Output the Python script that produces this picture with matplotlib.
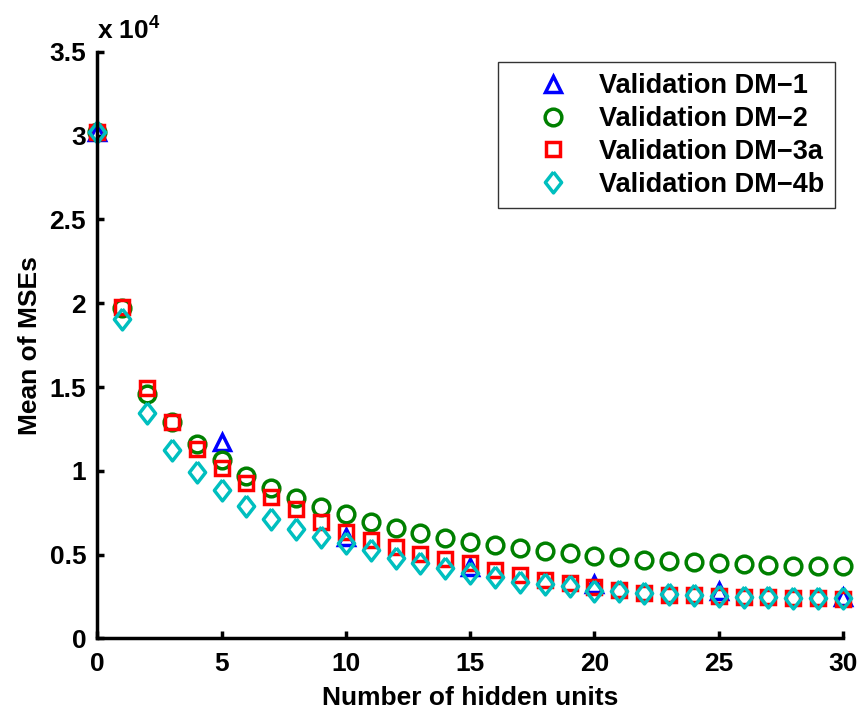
import numpy as np
import matplotlib
matplotlib.use('Agg')
import matplotlib.pyplot as plt
from matplotlib.ticker import FuncFormatter

plt.rcParams['font.family'] = ['Liberation Sans', 'DejaVu Sans']
plt.rcParams['font.weight'] = 'bold'
plt.rcParams['mathtext.fontset'] = 'custom'
plt.rcParams['mathtext.bf'] = 'Liberation Sans:bold'

# validation MSE means per number of hidden units
units_dm1 = [0, 5, 10, 15, 20, 25, 30]
mse_dm1 = [30250, 11700, 6060, 4290, 3250, 2820, 2490]

units = list(range(0, 31))
mse_dm2 = [30200, 19700, 14560, 12900, 11590, 10660, 9710, 8950, 8390, 7850,
           7400, 6960, 6620, 6300, 6000, 5770, 5570, 5370, 5210, 5110,
           4930, 4840, 4670, 4610, 4540, 4480, 4420, 4380, 4340, 4340, 4340]
mse_dm3a = [30200, 19780, 14970, 12890, 11290, 10180, 9250, 8450, 7700, 6960,
            6360, 5870, 5470, 5070, 4720, 4480, 4080, 3780, 3480, 3290,
            3050, 2890, 2730, 2600, 2590, 2520, 2490, 2450, 2430, 2390, 2350]
mse_dm4b = [30200, 19050, 13480, 11230, 9960, 8850, 7900, 7140, 6510, 6030,
            5710, 5270, 4820, 4480, 4180, 3920, 3680, 3380, 3240, 3120,
            2850, 2850, 2730, 2630, 2590, 2540, 2490, 2450, 2430, 2390, 2390]

# slightly narrow diamond like MATLAB's 'd'
diamond = [(0, 1), (0.78, 0), (0, -1), (-0.78, 0), (0, 1)]

fig = plt.figure(figsize=(8.61, 7.11), dpi=100)
ax = fig.add_axes([0.113, 0.102, 0.866, 0.825])

mew = 2.5
ax.plot(units_dm1, mse_dm1, '^', color='#0000ff', mfc='none', ms=12, mew=mew,
        linestyle='none', clip_on=False, label='Validation DM\u22121')
ax.plot(units, mse_dm2, 'o', color='#008000', mfc='none', ms=12, mew=mew,
        linestyle='none', clip_on=False, label='Validation DM\u22122')
ax.plot(units, mse_dm3a, 's', color='#ff0000', mfc='none', ms=10, mew=mew,
        linestyle='none', clip_on=False, label='Validation DM\u22123a')
ax.plot(units, mse_dm4b, marker=diamond, color='#00bfbf', mfc='none', ms=15,
        mew=mew, linestyle='none', clip_on=False, label='Validation DM\u22124b')

ax.set_xlim(0, 30)
ax.set_ylim(0, 35000)
ax.set_xticks([0, 5, 10, 15, 20, 25, 30])
ax.set_yticks(np.arange(0, 35001, 5000))
ax.yaxis.set_major_formatter(FuncFormatter(lambda v, p: '%g' % (v / 1e4)))

for s in ['top', 'right']:
    ax.spines[s].set_visible(False)
for s in ['left', 'bottom']:
    ax.spines[s].set_linewidth(2.5)
ax.tick_params(direction='in', length=5, width=2.5, labelsize=19, pad=8)
ax.tick_params(axis='x', pad=10)
for lab in ax.get_xticklabels() + ax.get_yticklabels():
    lab.set_fontweight('bold')

ax.annotate('x 10$^{\\mathbf{4}}$', xy=(0.0, 1.0), xycoords='axes fraction',
            xytext=(0, 6), textcoords='offset points', fontsize=19,
            fontweight='bold', ha='left', va='bottom')

ax.set_xlabel('Number of hidden units', fontsize=19, fontweight='bold', labelpad=7)
ax.set_ylabel('Mean of MSEs', fontsize=19, fontweight='bold', labelpad=5)

leg = ax.legend(loc='upper right', bbox_to_anchor=(0.989, 0.982),
                borderaxespad=0, fontsize=19.5, frameon=True, fancybox=False,
                edgecolor='black', handletextpad=0.1, borderpad=0.4,
                labelspacing=0.25, handlelength=3.2)
leg.get_frame().set_linewidth(1.0)
for t in leg.get_texts():
    t.set_fontweight('bold')

fig.savefig('out.png', dpi=100)
